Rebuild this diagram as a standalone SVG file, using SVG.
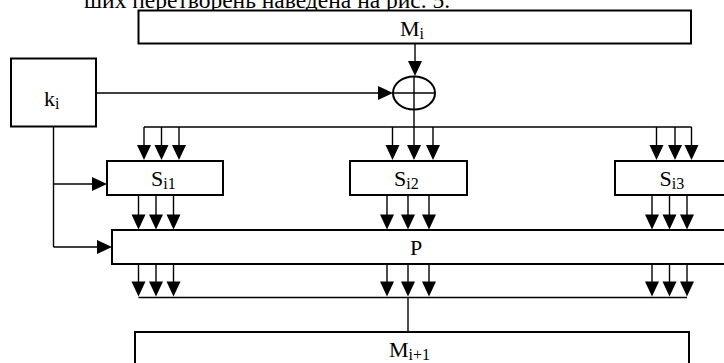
<svg xmlns="http://www.w3.org/2000/svg" width="724" height="363" viewBox="0 0 724 363">
<style>
.box{fill:#fff;stroke:#000;stroke-width:2}
.ln{fill:none;stroke:#000;stroke-width:1.4}
.ah{fill:#000;stroke:none}
text{font-family:'Liberation Serif','Times New Roman',serif;font-size:22px;fill:#000}
.s{font-size:16px}
</style>
<defs>
<polygon id="ad" points="-7,-15 7,-15 0,0"/>
<polygon id="ar" points="-15,-7 -15,7 0,0"/>
</defs>
<rect width="724" height="363" fill="#fff"/>
<text x="84" y="8" font-family="Liberation Serif, serif" style="font-size:23.5px">ших перетворень наведена на рис. 5.</text>

<g id="connectors">
<line class="ln" x1="415" y1="44" x2="415" y2="63"/>
<use href="#ad" class="ah" x="415" y="76"/>
<line class="ln" x1="96" y1="93" x2="379" y2="93"/>
<use href="#ar" class="ah" x="393" y="93"/>
<line class="ln" x1="414" y1="109" x2="414" y2="127"/>
<line class="ln" x1="144" y1="127" x2="691.5" y2="127"/>
<g>
<line class="ln" x1="144" y1="127" x2="144" y2="147"/><use href="#ad" class="ah" x="144" y="160"/>
<line class="ln" x1="161.5" y1="127" x2="161.5" y2="147"/><use href="#ad" class="ah" x="161.5" y="160"/>
<line class="ln" x1="179" y1="127" x2="179" y2="147"/><use href="#ad" class="ah" x="179" y="160"/>
<line class="ln" x1="392.5" y1="127" x2="392.5" y2="147"/><use href="#ad" class="ah" x="392.5" y="160"/>
<line class="ln" x1="414" y1="127" x2="414" y2="147"/><use href="#ad" class="ah" x="414" y="160"/>
<line class="ln" x1="433" y1="127" x2="433" y2="147"/><use href="#ad" class="ah" x="433" y="160"/>
<line class="ln" x1="656.5" y1="127" x2="656.5" y2="147"/><use href="#ad" class="ah" x="656.5" y="160"/>
<line class="ln" x1="675" y1="127" x2="675" y2="147"/><use href="#ad" class="ah" x="675" y="160"/>
<line class="ln" x1="691.5" y1="127" x2="691.5" y2="147"/><use href="#ad" class="ah" x="691.5" y="160"/>
</g>
<g>
<line class="ln" x1="138.5" y1="195" x2="138.5" y2="216"/><use href="#ad" class="ah" x="138.5" y="229.5"/>
<line class="ln" x1="156" y1="195" x2="156" y2="216"/><use href="#ad" class="ah" x="156" y="229.5"/>
<line class="ln" x1="173.5" y1="195" x2="173.5" y2="216"/><use href="#ad" class="ah" x="173.5" y="229.5"/>
<line class="ln" x1="387" y1="195" x2="387" y2="216"/><use href="#ad" class="ah" x="387" y="229.5"/>
<line class="ln" x1="408" y1="195" x2="408" y2="216"/><use href="#ad" class="ah" x="408" y="229.5"/>
<line class="ln" x1="429" y1="195" x2="429" y2="216"/><use href="#ad" class="ah" x="429" y="229.5"/>
<line class="ln" x1="652" y1="195" x2="652" y2="216"/><use href="#ad" class="ah" x="652" y="229.5"/>
<line class="ln" x1="669.5" y1="195" x2="669.5" y2="216"/><use href="#ad" class="ah" x="669.5" y="229.5"/>
<line class="ln" x1="687" y1="195" x2="687" y2="216"/><use href="#ad" class="ah" x="687" y="229.5"/>
</g>
<g>
<line class="ln" x1="138.5" y1="264" x2="138.5" y2="284"/><use href="#ad" class="ah" x="138.5" y="296.5"/>
<line class="ln" x1="156" y1="264" x2="156" y2="284"/><use href="#ad" class="ah" x="156" y="296.5"/>
<line class="ln" x1="173.5" y1="264" x2="173.5" y2="284"/><use href="#ad" class="ah" x="173.5" y="296.5"/>
<line class="ln" x1="387" y1="264" x2="387" y2="284"/><use href="#ad" class="ah" x="387" y="296.5"/>
<line class="ln" x1="408" y1="264" x2="408" y2="284"/><use href="#ad" class="ah" x="408" y="296.5"/>
<line class="ln" x1="429" y1="264" x2="429" y2="284"/><use href="#ad" class="ah" x="429" y="296.5"/>
<line class="ln" x1="652" y1="264" x2="652" y2="284"/><use href="#ad" class="ah" x="652" y="296.5"/>
<line class="ln" x1="669.5" y1="264" x2="669.5" y2="284"/><use href="#ad" class="ah" x="669.5" y="296.5"/>
<line class="ln" x1="687" y1="264" x2="687" y2="284"/><use href="#ad" class="ah" x="687" y="296.5"/>
</g>
<line class="ln" x1="138.5" y1="297.5" x2="687" y2="297.5"/>
<line class="ln" x1="408" y1="297.5" x2="408" y2="332"/>
<line class="ln" x1="53.5" y1="127" x2="53.5" y2="247"/>
<line class="ln" x1="53.5" y1="184" x2="93" y2="184"/>
<use href="#ar" class="ah" x="107" y="184"/>
<line class="ln" x1="53.5" y1="247" x2="98" y2="247"/>
<use href="#ar" class="ah" x="112" y="247"/>
</g>

<g id="Mi">
<rect class="box" x="138.5" y="10.5" width="552.5" height="33"/>
<text x="400" y="36">M<tspan class="s" dy="3">i</tspan></text>
</g>
<g id="xor">
<ellipse cx="414" cy="93" rx="21" ry="16.5" fill="#fff" stroke="#000" stroke-width="2"/>
<line class="ln" x1="414" y1="76.5" x2="414" y2="109.5"/>
<line class="ln" x1="393" y1="93" x2="435" y2="93"/>
</g>
<g id="ki">
<rect class="box" x="11" y="58.5" width="85" height="68"/>
<text x="44" y="106">k<tspan class="s" dy="3">i</tspan></text>
</g>
<g id="Si1">
<rect class="box" x="107" y="161" width="116" height="34"/>
<text x="151" y="186">S<tspan class="s" dy="3">i1</tspan></text>
</g>
<g id="Si2">
<rect class="box" x="350" y="161" width="117" height="34"/>
<text x="394" y="186">S<tspan class="s" dy="3">i2</tspan></text>
</g>
<g id="Si3">
<rect class="box" x="615" y="161" width="120" height="34"/>
<text x="659.5" y="186">S<tspan class="s" dy="3">i3</tspan></text>
</g>
<g id="P">
<rect class="box" x="112" y="230" width="620" height="34"/>
<text x="410" y="255">P</text>
</g>
<g id="Mi1">
<rect class="box" x="135" y="332" width="554" height="40"/>
<text x="389" y="357">M<tspan class="s" dy="3">i+1</tspan></text>
</g>
</svg>
